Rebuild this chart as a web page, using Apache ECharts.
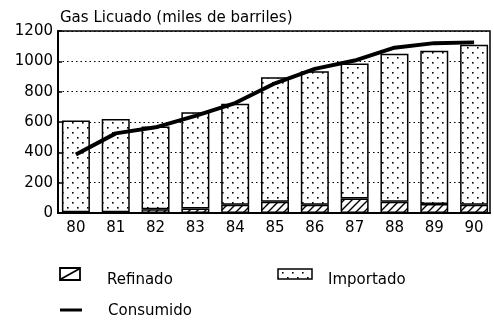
<!DOCTYPE html>
<html>
<head>
<meta charset="utf-8">
<script src="https://cdn.jsdelivr.net/npm/echarts@6/dist/echarts.min.js"></script>
<style>
  html, body { margin: 0; padding: 0; background: #fff; }
  #chart { width: 494px; height: 325px; }
</style>
</head>
<body>
<div id="chart"></div>
<script>
// Gas licuado, miles de barriles, 1980-1990
const years = ['80', '81', '82', '83', '84', '85', '86', '87', '88', '89', '90'];
const refinado = [5, 5, 25, 30, 55, 75, 55, 95, 75, 60, 55];
const importado = [605, 615, 545, 635, 665, 820, 880, 890, 975, 1010, 1055];
const consumido = [385, 525, 565, 640, 725, 855, 950, 1005, 1090, 1120, 1125];
const yTicks = [0, 200, 400, 600, 800, 1000, 1200];

const FONT = 'DejaVu Sans';

// Fill patterns: diagonal hatch and sparse dots
function hatchPattern() {
  const c = document.createElement('canvas');
  c.width = 8; c.height = 8;
  const g = c.getContext('2d');
  g.fillStyle = '#fff'; g.fillRect(0, 0, 8, 8);
  g.strokeStyle = '#000'; g.lineWidth = 1.4;
  g.beginPath();
  g.moveTo(-1, 9); g.lineTo(9, -1);
  g.moveTo(-1, 1); g.lineTo(1, -1);
  g.moveTo(7, 9); g.lineTo(9, 7);
  g.stroke();
  return { image: c, repeat: 'repeat' };
}
function dotPattern() {
  const c = document.createElement('canvas');
  c.width = 10; c.height = 10;
  const g = c.getContext('2d');
  g.fillStyle = '#fff'; g.fillRect(0, 0, 10, 10);
  g.fillStyle = '#000';
  g.fillRect(2, 2, 1.6, 1.6);
  g.fillRect(7, 7, 1.6, 1.6);
  return { image: c, repeat: 'repeat' };
}
const HATCH = hatchPattern();
const DOTS = dotPattern();

const chart = echarts.init(document.getElementById('chart'), null, { renderer: 'canvas' });

const TOP = 31, HEIGHT = 182;

chart.setOption({
  animation: false,
  backgroundColor: '#fff',
  title: {
    text: 'Gas Licuado (miles de barriles)',
    left: 55, top: 6,
    textStyle: { fontFamily: FONT, fontSize: 15, fontWeight: 'normal', color: '#000' }
  },
  grid: [
    { left: 56, right: 0, top: TOP, height: HEIGHT },
    { left: 58, right: 4, top: TOP, height: HEIGHT, show: true, borderColor: '#000', borderWidth: 1.5, backgroundColor: 'transparent' }
  ],
  xAxis: [
    {
      type: 'category', gridIndex: 0, data: years,
      axisLine: { show: false }, axisTick: { show: false },
      axisLabel: { margin: 8, fontFamily: FONT, fontSize: 15, color: '#000' }
    },
    {
      type: 'category', gridIndex: 1, data: years,
      axisLine: { show: true, lineStyle: { color: '#000', width: 2 } },
      axisTick: { show: false }, axisLabel: { show: false }
    }
  ],
  yAxis: [
    { type: 'value', gridIndex: 0, min: 0, max: 1200, interval: 200, show: false },
    {
      type: 'value', gridIndex: 1, min: 0, max: 1200, interval: 200,
      axisLine: { show: true, lineStyle: { color: '#000', width: 2 } },
      axisTick: { show: true, inside: true, length: 4, lineStyle: { color: '#000', width: 1.5 } },
      axisLabel: {
        margin: 5, fontFamily: FONT, fontSize: 15, color: '#000',
        formatter: v => yTicks.includes(v) ? String(v) : ''
      },
      splitLine: { show: true, lineStyle: { color: '#000', type: [1.5, 3], width: 1.2 } }
    }
  ],
  series: [
    {
      name: 'Refinado', type: 'bar', stack: 'gas', xAxisIndex: 0, yAxisIndex: 0,
      barWidth: 28, data: refinado, z: 3,
      itemStyle: { color: HATCH, borderColor: '#000', borderWidth: 1.5 }
    },
    {
      name: 'Importado', type: 'bar', stack: 'gas', xAxisIndex: 0, yAxisIndex: 0,
      barWidth: 28, data: importado, z: 3,
      itemStyle: { color: DOTS, borderColor: '#000', borderWidth: 1.5 }
    },
    {
      name: 'Consumido', type: 'line', xAxisIndex: 0, yAxisIndex: 0,
      data: consumido, symbol: 'none', z: 5,
      lineStyle: { color: '#000', width: 4 }
    }
  ],
  graphic: [
    // legend: Refinado (box with one diagonal stroke)
    { type: 'rect', shape: { x: 60, y: 268, width: 20, height: 12 },
      style: { fill: '#fff', stroke: '#000', lineWidth: 1.8 } },
    { type: 'line', shape: { x1: 61, y1: 279, x2: 79, y2: 269 },
      style: { stroke: '#000', lineWidth: 1.8 } },
    { type: 'text', x: 107, y: 280,
      style: { text: 'Refinado', fontFamily: FONT, fontSize: 15, fill: '#000', verticalAlign: 'middle' } },
    // legend: Importado
    { type: 'rect', shape: { x: 278, y: 269, width: 34, height: 10 },
      style: { fill: DOTS, stroke: '#000', lineWidth: 1.5 } },
    { type: 'text', x: 328, y: 280,
      style: { text: 'Importado', fontFamily: FONT, fontSize: 15, fill: '#000', verticalAlign: 'middle' } },
    // legend: Consumido
    { type: 'line', shape: { x1: 60, y1: 310, x2: 82, y2: 310 },
      style: { stroke: '#000', lineWidth: 3 } },
    { type: 'text', x: 108, y: 311,
      style: { text: 'Consumido', fontFamily: FONT, fontSize: 15, fill: '#000', verticalAlign: 'middle' } }
  ]
});
</script>
</body>
</html>
